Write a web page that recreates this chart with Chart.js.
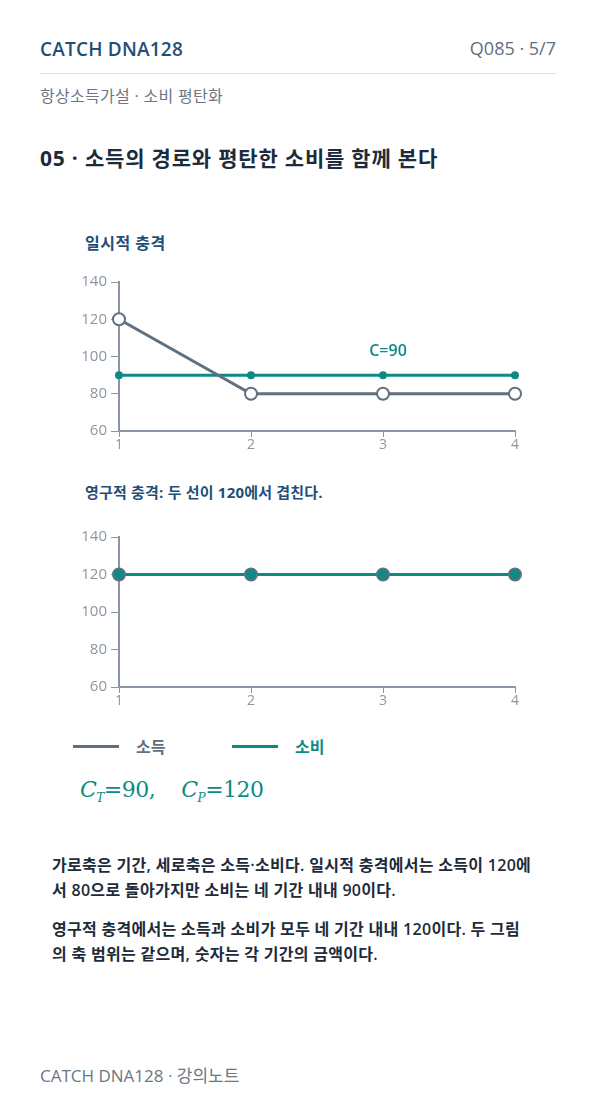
<!DOCTYPE html>
<html><head><meta charset="utf-8">
<script src="https://cdn.jsdelivr.net/npm/chart.js@4/dist/chart.umd.min.js"></script>
<style>
body{margin:0;width:596px;height:1106px;background:#fff;font-family:"Open Sans","Noto Sans CJK KR",sans-serif;position:relative;overflow:hidden}
.t{position:absolute;white-space:nowrap}
canvas{position:absolute}
</style></head><body>
<div class="t" style="left:40px;top:36px;font-size:19px;font-weight:600;color:#1f4e79;letter-spacing:0.2px">CATCH DNA128</div>
<div class="t" style="right:40px;top:36px;font-size:18px;color:#5f7080">Q085 · 5/7</div>
<div style="position:absolute;left:40px;top:73px;width:516px;height:1px;background:#dcdfe3"></div>
<div class="t" style="left:40px;top:83px;font-size:16px;color:#6b7785;letter-spacing:0.3px">항상소득가설 · 소비 평탄화</div>
<div class="t" style="left:40px;top:142px;font-size:21px;font-weight:700;color:#1d2b3a;letter-spacing:0.8px">05 · 소득의 경로와 평탄한 소비를 함께 본다</div>
<div class="t" style="left:85px;top:230px;font-size:16px;font-weight:700;color:#1f4e79;letter-spacing:0.5px">일시적 충격</div>
<div style="position:absolute;left:70px;top:269px;width:460px;height:184px"><canvas id="c1"></canvas></div>
<div class="t" style="left:85px;top:481px;font-size:15px;font-weight:700;color:#1f4e79;letter-spacing:0.2px">영구적 충격: 두 선이 120에서 겹친다.</div>
<div style="position:absolute;left:70px;top:524px;width:460px;height:185px"><canvas id="c2"></canvas></div>
<div style="position:absolute;left:73px;top:745px;width:46px;height:3px;background:#5f7080"></div>
<div class="t" style="left:136px;top:734px;font-size:16px;font-weight:700;color:#5f7080">소득</div>
<div style="position:absolute;left:232px;top:745px;width:46px;height:3px;background:#0e8a84"></div>
<div class="t" style="left:295px;top:734px;font-size:16px;font-weight:700;color:#0e8a84">소비</div>
<div class="t" style="left:80px;top:777px;font-size:22px;color:#0e8a84;font-family:'DejaVu Serif',serif;letter-spacing:-0.5px"><i>C</i><sub style="font-size:12px"><i>T</i></sub>=90,&nbsp;&nbsp;&nbsp;&nbsp;<i>C</i><sub style="font-size:12px"><i>P</i></sub>=120</div>
<div class="t" style="left:52px;top:853px;font-size:16px;font-weight:600;color:#1d2b3a;line-height:25px;letter-spacing:0.3px">가로축은 기간, 세로축은 소득·소비다. 일시적 충격에서는 소득이 120에<br>서 80으로 돌아가지만 소비는 네 기간 내내 90이다.</div>
<div class="t" style="left:52px;top:917px;font-size:16px;font-weight:600;color:#1d2b3a;line-height:25px;letter-spacing:0.3px">영구적 충격에서는 소득과 소비가 모두 네 기간 내내 120이다. 두 그림<br>의 축 범위는 같으며, 숫자는 각 기간의 금액이다.</div>
<div class="t" style="left:40px;top:1062px;font-size:17px;color:#6b7785">CATCH DNA128 · 강의노트</div>
<script>
const periods = ["1", "2", "3", "4"];
const yTicks = [60, 80, 100, 120, 140];
const tempIncome = [120, 80, 80, 80];
const tempConsumption = [90, 90, 90, 90];
const permIncome = [120, 120, 120, 120];
const permConsumption = [120, 120, 120, 120];

const GRAY = "#5f7080", TEAL = "#0e8a84", AXIS = "#8a96a3";

function opts() {
  return {
    responsive: true, maintainAspectRatio: false, animation: false,
    layout: { padding: { top: 10, right: 15, left: 0, bottom: 0 } },
    plugins: { legend: { display: false }, tooltip: { enabled: false } },
    scales: {
      x: {
        offset: false,
        grid: { drawOnChartArea: false, color: AXIS, tickLength: 6 },
        border: { color: AXIS, width: 2 },
        ticks: { color: AXIS, font: { size: 14, family: "Open Sans" }, padding: 0 },
        afterFit: (s) => { s.height = 22; },
      },
      y: {
        min: 60, max: 140,
        afterBuildTicks: (s) => { s.ticks = yTicks.map((v) => ({ value: v })); },
        grid: { drawOnChartArea: false, color: AXIS, tickLength: 8 },
        border: { color: AXIS, width: 2 },
        ticks: { color: AXIS, font: { size: 15, family: "Open Sans" }, padding: 4 },
        afterFit: (s) => { s.width = 49; },
      },
    },
  };
}

const labelPlugin = {
  id: "cLabel",
  afterDatasetsDraw(chart) {
    const { ctx, scales } = chart;
    ctx.save();
    ctx.fillStyle = TEAL;
    ctx.font = "600 16px 'Open Sans'";
    ctx.textAlign = "center";
    ctx.fillText("C=" + tempConsumption[2], scales.x.getPixelForValue(2) + 5, scales.y.getPixelForValue(tempConsumption[2]) - 19);
    ctx.restore();
  },
};

new Chart(document.getElementById("c1"), {
  type: "line",
  data: {
    labels: periods,
    datasets: [
      { label: "소득", data: tempIncome, borderColor: GRAY, borderWidth: 3, pointRadius: 6, pointBackgroundColor: "#fff", pointBorderColor: GRAY, pointBorderWidth: 2 },
      { label: "소비", data: tempConsumption, borderColor: TEAL, borderWidth: 3, pointRadius: 4, pointBackgroundColor: TEAL, pointBorderWidth: 0 },
    ],
  },
  options: opts(),
  plugins: [labelPlugin],
});

new Chart(document.getElementById("c2"), {
  type: "line",
  data: {
    labels: periods,
    datasets: [
      { label: "소비", data: permConsumption, borderColor: TEAL, borderWidth: 3, pointRadius: 6, pointBackgroundColor: TEAL, pointBorderColor: GRAY, pointBorderWidth: 2 },
      { label: "소득", data: permIncome, borderColor: GRAY, borderWidth: 3, pointRadius: 0 },
    ],
  },
  options: opts(),
});
</script>
</body></html>
